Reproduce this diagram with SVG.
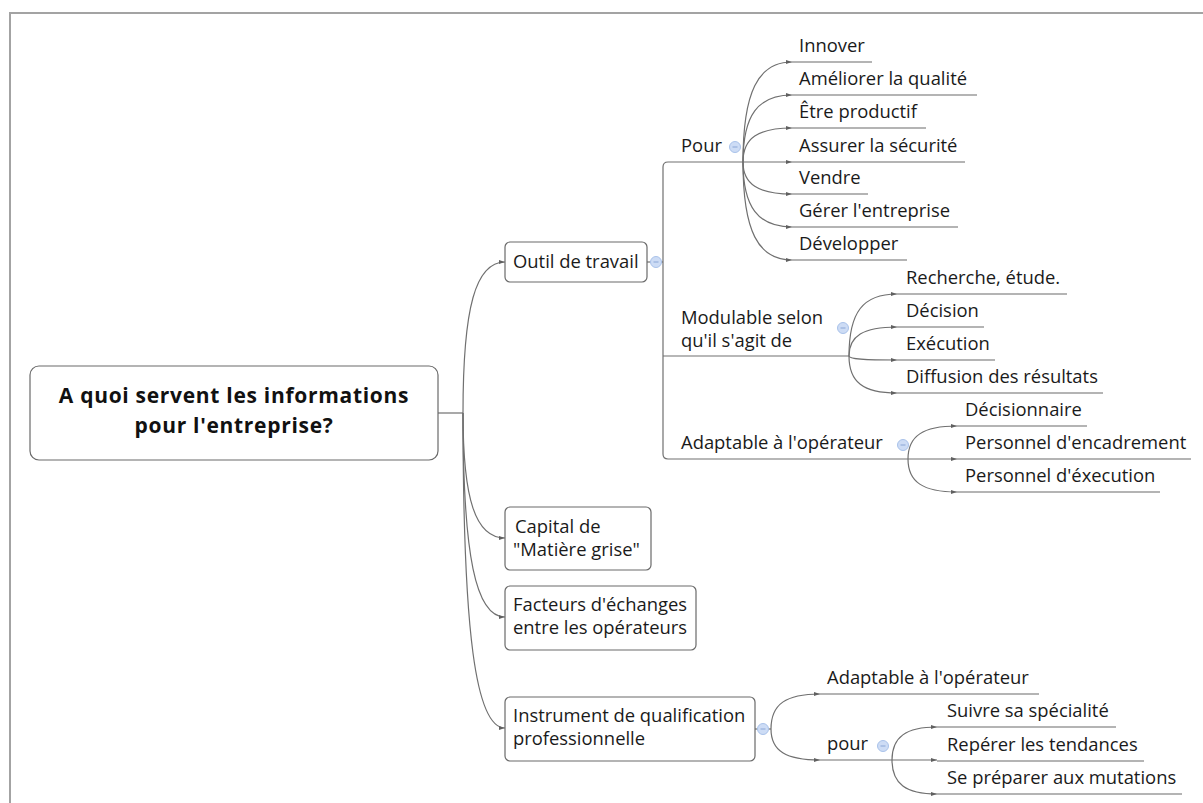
<svg xmlns="http://www.w3.org/2000/svg" width="1203" height="803" viewBox="0 0 1203 803">
  <defs>
    <style>
      .frame { fill: none; stroke: #a3a3a3; stroke-width: 2; }
      .box { fill: #ffffff; stroke: #6a6a6a; stroke-width: 1.2; }
      .t { font-family: "Open Sans", "Noto Sans", sans-serif; font-size: 18.4px; fill: #1a1a1a; }
      .root { font-family: "Open Sans", "Noto Sans", sans-serif; font-size: 21px; letter-spacing: 0.7px; font-weight: bold; fill: #111111; text-anchor: middle; }
      .con { fill: none; stroke: #707070; stroke-width: 1.2; }
      .arr { fill: none; stroke: #707070; stroke-width: 1.2; marker-end: url(#tip); }
      .ul { fill: none; stroke: #6a6a6a; stroke-width: 1.2; }
      .tog { fill: #cddcf5; stroke: #a9c2ea; stroke-width: 1; }
      .tog-bar { stroke: #8aa6d6; stroke-width: 1; }
    </style>
    <marker id="tip" markerWidth="7" markerHeight="7" refX="6" refY="3.5" orient="auto" markerUnits="userSpaceOnUse">
      <path d="M0,1.5 L6,3.5 L0,5.5 Z" fill="#606060"/>
    </marker>
    <g id="toggle">
      <circle r="5.5" class="tog"/>
      <line x1="-2.5" y1="0" x2="2.5" y2="0" class="tog-bar"/>
    </g>
  </defs>

  <rect width="1203" height="803" fill="#ffffff"/>
  <path class="frame" d="M10,803 V13 H1203"/>

  <!-- connectors -->
  <g id="connectors">
    <!-- root to main topics -->
    <path class="con" d="M438 413 H463"/>
    <path class="arr" d="M463 413 C463 307 475.6 262 505 262"/>
    <path class="arr" d="M463 413 C463 500 475.6 538 505 538"/>
    <path class="arr" d="M463 413 C463 556 475.6 617 505 617"/>
    <path class="arr" d="M463 413 C463 633 475.6 728 505 728"/>

    <!-- Outil de travail: bracket to its three sub-topics -->
    <path class="con" d="M647 262 H663"/>
    <path class="con" d="M743 162 H668 Q663 162 663 167 V454 Q663 459 668 459 H908"/>
    <path class="con" d="M663 356 H849"/>

    <!-- Pour -->
    <path class="arr" d="M743 162 C743 92 758 62 792 62"/>
    <path class="arr" d="M743 162 C743 115 758 95 792 95"/>
    <path class="arr" d="M743 162 C743 138 758 128 792 128"/>
    <path class="arr" d="M743 162 H792"/>
    <path class="arr" d="M743 162 C743 184 758 194 792 194"/>
    <path class="arr" d="M743 162 C743 207 758 227 792 227"/>
    <path class="arr" d="M743 162 C743 231 758 260 792 260"/>

    <!-- Modulable selon -->
    <path class="arr" d="M849 356 C849 312 863 294 897 294"/>
    <path class="arr" d="M849 356 C849 336 863 327 897 327"/>
    <path class="arr" d="M849 356 C849 359 863 360 897 360"/>
    <path class="arr" d="M849 356 C849 382 863 393 897 393"/>

    <!-- Adaptable à l'opérateur -->
    <path class="arr" d="M908 459 C908 436 923 426 957 426"/>
    <path class="arr" d="M908 459 H957"/>
    <path class="arr" d="M908 459 C908 482 923 492 957 492"/>

    <!-- Instrument de qualification -->
    <path class="con" d="M755 729 H771"/>
    <path class="arr" d="M771 729 C771 704 786 694 820 694"/>
    <path class="arr" d="M771 729 C771 751 786 760 820 760"/>

    <!-- pour -->
    <path class="con" d="M820 760 H892"/>
    <path class="arr" d="M892 760 C892 737 906 727 937 727"/>
    <path class="arr" d="M892 760 H937"/>
    <path class="arr" d="M892 760 C892 784 906 794 937 794"/>
  </g>

  <!-- central topic -->
  <g id="root">
    <rect class="box" x="30" y="366" width="408" height="94" rx="9"/>
    <text class="root" x="234" y="403">A quoi servent les informations</text>
    <text class="root" x="234" y="433">pour l'entreprise?</text>
  </g>

  <!-- main topics -->
  <g id="outil">
    <rect class="box" x="505" y="242" width="142" height="40" rx="5"/>
    <text class="t" x="513" y="268">Outil de travail</text>
    <use href="#toggle" x="656" y="262"/>
  </g>
  <g id="capital">
    <rect class="box" x="505" y="507" width="146" height="63" rx="5"/>
    <text class="t" x="515" y="533">Capital de</text>
    <text class="t" x="513" y="556">"Matière grise"</text>
  </g>
  <g id="facteurs">
    <rect class="box" x="505" y="586" width="191" height="64" rx="5"/>
    <text class="t" x="513" y="611">Facteurs d'échanges</text>
    <text class="t" x="513" y="634">entre les opérateurs</text>
  </g>
  <g id="instrument">
    <rect class="box" x="505" y="697" width="250" height="64" rx="5"/>
    <text class="t" x="513" y="722">Instrument de qualification</text>
    <text class="t" x="513" y="745">professionnelle</text>
    <use href="#toggle" x="763" y="729"/>
  </g>

  <!-- sub-topics of Outil de travail -->
  <g id="pour-main">
    <text class="t" x="681" y="152">Pour</text>
    <use href="#toggle" x="735" y="147"/>
  </g>
  <g id="modulable">
    <text class="t" x="681" y="324">Modulable selon</text>
    <text class="t" x="681" y="347">qu'il s'agit de</text>
    <use href="#toggle" x="843" y="328"/>
  </g>
  <g id="adaptable">
    <text class="t" x="681" y="449">Adaptable à l'opérateur</text>
    <use href="#toggle" x="903" y="445"/>
  </g>

  <!-- Pour: leaves -->
  <g id="innover"><text class="t" x="799" y="52">Innover</text><path class="ul" d="M792 62 H872"/></g>
  <g id="ameliorer"><text class="t" x="799" y="85">Améliorer la qualité</text><path class="ul" d="M792 95 H977"/></g>
  <g id="productif"><text class="t" x="799" y="118">Être productif</text><path class="ul" d="M792 128 H926"/></g>
  <g id="securite"><text class="t" x="799" y="152">Assurer la sécurité</text><path class="ul" d="M792 162 H965"/></g>
  <g id="vendre"><text class="t" x="799" y="184">Vendre</text><path class="ul" d="M792 194 H868"/></g>
  <g id="gerer"><text class="t" x="799" y="217">Gérer l'entreprise</text><path class="ul" d="M792 227 H958"/></g>
  <g id="developper"><text class="t" x="799" y="250">Développer</text><path class="ul" d="M792 260 H907"/></g>

  <!-- Modulable: leaves -->
  <g id="recherche"><text class="t" x="906" y="284">Recherche, étude.</text><path class="ul" d="M897 294 H1067"/></g>
  <g id="decision"><text class="t" x="906" y="317">Décision</text><path class="ul" d="M897 327 H984"/></g>
  <g id="execution"><text class="t" x="906" y="350">Exécution</text><path class="ul" d="M897 360 H995"/></g>
  <g id="diffusion"><text class="t" x="906" y="383">Diffusion des résultats</text><path class="ul" d="M897 393 H1103"/></g>

  <!-- Adaptable: leaves -->
  <g id="decisionnaire"><text class="t" x="965" y="416">Décisionnaire</text><path class="ul" d="M957 426 H1087"/></g>
  <g id="encadrement"><text class="t" x="965" y="449">Personnel d'encadrement</text><path class="ul" d="M957 459 H1191"/></g>
  <g id="pers-execution"><text class="t" x="965" y="482">Personnel d'éxecution</text><path class="ul" d="M957 492 H1160"/></g>

  <!-- Instrument: sub-topics -->
  <g id="adaptable-2"><text class="t" x="827" y="684">Adaptable à l'opérateur</text><path class="ul" d="M820 694 H1039"/></g>
  <g id="pour-2">
    <text class="t" x="827" y="750">pour</text>
    <use href="#toggle" x="883" y="746"/>
  </g>
  <g id="suivre"><text class="t" x="947" y="717">Suivre sa spécialité</text><path class="ul" d="M937 727 H1116"/></g>
  <g id="reperer"><text class="t" x="947" y="751">Repérer les tendances</text><path class="ul" d="M937 761 H1144"/></g>
  <g id="mutations"><text class="t" x="947" y="784">Se préparer aux mutations</text><path class="ul" d="M937 794 H1182"/></g>
</svg>
